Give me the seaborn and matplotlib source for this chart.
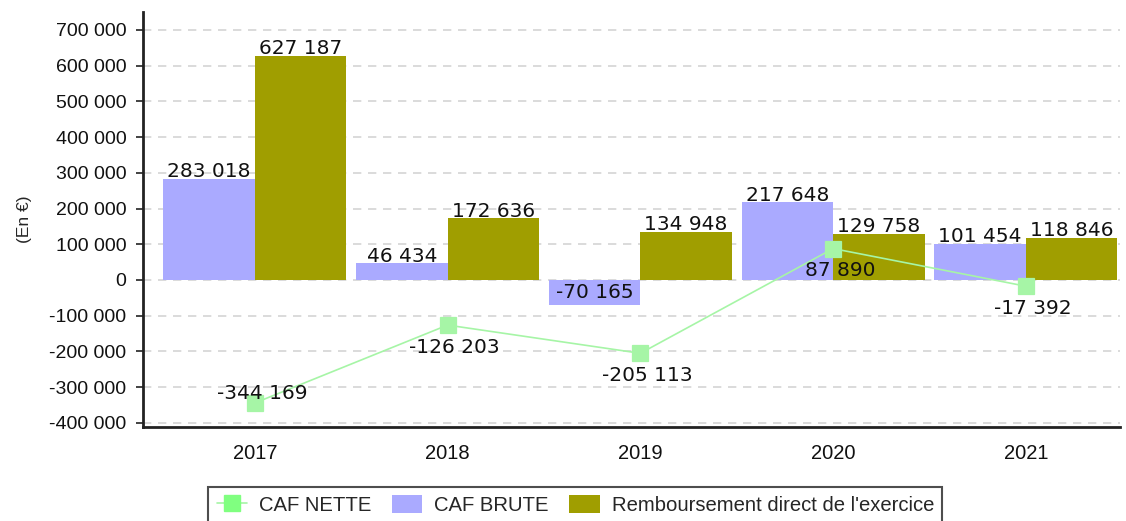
import pandas as pd
import numpy as np
import seaborn as sns
import matplotlib.pyplot as plt
from matplotlib.lines import Line2D
from matplotlib.patches import Patch

# data
annees = ['2017', '2018', '2019', '2020', '2021']
caf_brute = [283018, 46434, -70165, 217648, 101454]
remboursement = [627187, 172636, 134948, 129758, 118846]
caf_nette = [-344169, -126203, -205113, 87890, -17392]

col_brute = '#aaaaff'
col_remb = '#a09e00'
col_nette_line = '#a6f5a6'
col_nette_mark = '#80ff80'


def fmt(v):
    return f'{v:,}'.replace(',', ' ')


if __name__ == '__main__':
    sns.set_style('white')
    plt.rcParams['font.family'] = ['Liberation Sans', 'DejaVu Sans']

    bars = pd.DataFrame({
        'annee': annees * 2,
        'serie': ['CAF BRUTE'] * 5 + ['Remboursement direct de l\'exercice'] * 5,
        'valeur': caf_brute + remboursement,
    })
    nette = pd.DataFrame({'annee': annees, 'valeur': caf_nette})

    fig, ax = plt.subplots(figsize=(11.26, 5.21), dpi=100)
    fig.subplots_adjust(left=0.127, right=0.995, bottom=0.18, top=0.977)

    sns.barplot(data=bars, x='annee', y='valeur', hue='serie',
                palette=[col_brute, col_remb], width=0.95, saturation=1,
                linewidth=0, legend=False, ax=ax)

    sns.pointplot(data=nette, x='annee', y='valeur', color=col_nette_line,
                  markers='s', markersize=11, linewidth=1.2, ax=ax)
    pl = ax.lines[-1]
    pl.set_markerfacecolor(col_nette_mark)
    pl.set_markeredgecolor(col_nette_mark)
    pl.set_zorder(5)

    # value labels on bars
    for cont, vals in zip(ax.containers, [caf_brute, remboursement]):
        for rect, v in zip(cont, vals):
            x = rect.get_x() + rect.get_width() / 2
            if v >= 0:
                ax.annotate(fmt(v), (x, v), xytext=(0, 5), textcoords='offset points',
                            ha='center', va='center', fontsize=14.5,
                            family='DejaVu Sans', color='#111111', zorder=6)
            else:
                ax.annotate(fmt(v), (x, v / 2), ha='center', va='center',
                            fontsize=14.5, family='DejaVu Sans', color='#111111', zorder=6)

    # value labels on the line
    for i, v in enumerate(caf_nette):
        dy = 7 if v < -300000 else -16
        ax.annotate(fmt(v), (i, v), xytext=(5, dy), textcoords='offset points',
                    ha='center', va='center', fontsize=14.5,
                    family='DejaVu Sans', color='#111111', zorder=6)

    ax.set_ylim(-412000, 750000)
    ax.set_xlim(-0.58, 4.49)
    ticks = np.arange(-400000, 700001, 100000)
    ax.set_yticks(ticks)
    ax.set_yticklabels([fmt(t) for t in ticks])
    ax.tick_params(axis='y', labelsize=14, length=5, width=1.2, color='#222222',
                   left=True, labelcolor='#111111', pad=7)
    ax.tick_params(axis='x', labelsize=14.5, length=0, pad=12, labelcolor='#111111')
    ax.set_xlabel('')
    ax.set_ylabel('(En €)', fontsize=12.5, labelpad=12)

    ax.yaxis.grid(True, color='#d4d4d4', linestyle=(0, (5, 4)), linewidth=1.2)
    ax.set_axisbelow(True)
    sns.despine(ax=ax)
    for s in ['left', 'bottom']:
        ax.spines[s].set_color('#222222')
        ax.spines[s].set_linewidth(2)

    handles = [
        Line2D([0], [0], color=col_nette_line, marker='s', markersize=11,
               markerfacecolor=col_nette_mark, markeredgecolor=col_nette_mark, linewidth=1.2),
        Patch(facecolor=col_brute, edgecolor='none'),
        Patch(facecolor=col_remb, edgecolor='none'),
    ]
    leg = fig.legend(handles, ['CAF NETTE', 'CAF BRUTE', 'Remboursement direct de l\'exercice'],
                     loc='upper center', bbox_to_anchor=(0.511, 0.085), ncol=3,
                     fontsize=14.6, frameon=True, fancybox=False, handlelength=1.5,
                     handleheight=1.0, handletextpad=0.6, columnspacing=1.0, borderpad=0.4)
    leg.get_frame().set_edgecolor('#222222')
    leg.get_frame().set_linewidth(1.5)

    plt.savefig('out.png', dpi=100)
